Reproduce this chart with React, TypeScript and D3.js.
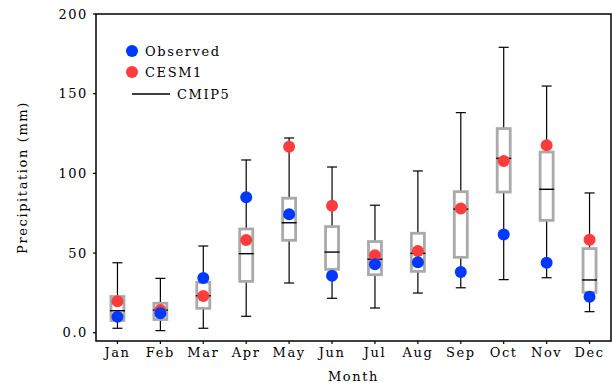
import React from 'react';
import * as d3 from 'd3';

const months = ['Jan', 'Feb', 'Mar', 'Apr', 'May', 'Jun', 'Jul', 'Aug', 'Sep', 'Oct', 'Nov', 'Dec'];
const observed = [10.0, 12.2, 34.3, 85.0, 74.3, 35.8, 42.9, 44.2, 38.1, 61.7, 43.9, 22.6];
const cesm1 = [19.7, 14.2, 23.0, 58.2, 116.7, 79.7, 48.6, 51.3, 78.0, 107.8, 117.6, 58.4];
const cmipMin = [2.8, 1.3, 2.8, 10.3, 31.2, 21.6, 15.5, 24.9, 28.2, 33.3, 34.5, 13.2];
const cmipQ1 = [7.7, 8.3, 15.3, 32.2, 58.0, 39.8, 36.4, 38.5, 47.3, 88.3, 70.5, 25.3];
const cmipMed = [13.8, 14.2, 23.2, 49.6, 69.0, 50.6, 46.1, 49.8, 77.6, 109.4, 90.0, 33.1];
const cmipQ3 = [22.7, 18.5, 31.6, 65.1, 84.4, 66.6, 57.2, 62.4, 88.5, 128.1, 113.4, 52.8];
const cmipMax = [43.9, 34.1, 54.4, 108.4, 122.2, 104.0, 80.0, 101.5, 138.1, 179.1, 154.8, 87.7];
const yTicks = [0, 50, 100, 150, 200];

const W = 612;
const H = 383;
const FONT = '"DejaVu Serif", serif';
const BLUE = '#0038ff';
const RED = '#ff3c3c';

export default function App() {
  const x = d3.scaleLinear().domain([0.5, 12.5]).range([96, 611]);
  const y = d3.scaleLinear().domain([-5.2, 200]).range([341, 14]);
  const boxW = 13;
  const capW = 10;
  const txt = { fontFamily: FONT, fontSize: 13, letterSpacing: 1.6, fill: '#000' };

  return (
    <svg width={W} height={H} style={{ position: 'absolute', left: 0, top: 0 }}>
      <rect x={0} y={0} width={W} height={H} fill="#fff" />

      {/* CMIP5 boxes */}
      {months.map((m, i) => {
        const cx = x(i + 1);
        return (
          <g key={m}>
            <line x1={cx} x2={cx} y1={y(cmipMax[i])} y2={y(cmipMin[i])} stroke="#000" strokeWidth={1.2} />
            <line x1={cx - capW / 2} x2={cx + capW / 2} y1={y(cmipMax[i])} y2={y(cmipMax[i])} stroke="#000" strokeWidth={1.2} />
            <line x1={cx - capW / 2} x2={cx + capW / 2} y1={y(cmipMin[i])} y2={y(cmipMin[i])} stroke="#000" strokeWidth={1.2} />
            <rect x={cx - boxW / 2} y={y(cmipQ3[i])} width={boxW} height={y(cmipQ1[i]) - y(cmipQ3[i])}
              fill="#fff" stroke="#aaa" strokeWidth={2.8} />
            <line x1={cx - boxW / 2 - 1} x2={cx + boxW / 2 + 1} y1={y(cmipMed[i])} y2={y(cmipMed[i])} stroke="#000" strokeWidth={1.4} />
          </g>
        );
      })}

      {/* CESM1 and observed */}
      {months.map((m, i) => (
        <g key={'d' + m}>
          <circle cx={x(i + 1)} cy={y(cesm1[i])} r={6} fill={RED} />
          <circle cx={x(i + 1)} cy={y(observed[i])} r={6} fill={BLUE} />
        </g>
      ))}

      {/* frame */}
      <rect x={x(0.5)} y={y(200)} width={x(12.5) - x(0.5)} height={y(-5.2) - y(200)} fill="none" stroke="#000" strokeWidth={1.5} />

      {/* y axis */}
      {yTicks.map(t => (
        <g key={'y' + t}>
          <line x1={x(0.5) - 3} x2={x(0.5)} y1={y(t)} y2={y(t)} stroke="#000" strokeWidth={1.2} />
          <text x={88} y={y(t)} dy="0.35em" textAnchor="end" {...txt}>{t === 0 ? '0.0' : t}</text>
        </g>
      ))}
      <text transform={`translate(27,${(y(200) + y(-5.2)) / 2}) rotate(-90)`} textAnchor="middle" {...txt}>Precipitation (mm)</text>

      {/* x axis */}
      {months.map((m, i) => (
        <g key={'x' + m}>
          <line x1={x(i + 1)} x2={x(i + 1)} y1={y(-5.2)} y2={y(-5.2) + 3} stroke="#000" strokeWidth={1.2} />
          <text x={x(i + 1)} y={357} textAnchor="middle" {...txt}>{m}</text>
        </g>
      ))}
      <text x={(x(0.5) + x(12.5)) / 2} y={381} textAnchor="middle" {...txt}>Month</text>

      {/* legend */}
      <circle cx={132} cy={51} r={6} fill={BLUE} />
      <text x={145} y={56} {...txt}>Observed</text>
      <circle cx={132} cy={72} r={6} fill={RED} />
      <text x={145} y={77} {...txt}>CESM1</text>
      <line x1={132} x2={170} y1={94} y2={94} stroke="#000" strokeWidth={1.5} />
      <text x={177} y={99} {...txt}>CMIP5</text>
    </svg>
  );
}
